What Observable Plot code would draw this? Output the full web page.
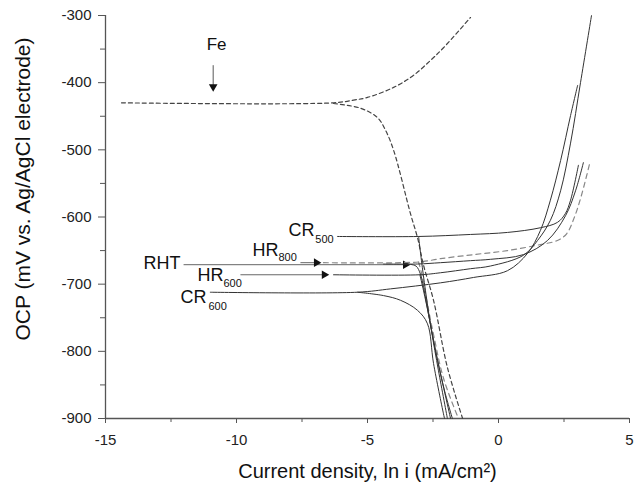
<!DOCTYPE html>
<html>
<head>
<meta charset="utf-8">
<script src="https://cdn.jsdelivr.net/npm/d3@7"></script>
<script src="https://cdn.jsdelivr.net/npm/@observablehq/plot@0.6"></script>
<style>
  html, body { margin: 0; padding: 0; background: #fff; }
  #chart svg { font-family: "Liberation Sans", Arial, sans-serif; }
</style>
</head>
<body>
<div id="chart"></div>
<script>
// ---- axis ticks ----
const xTicks = [-15, -10, -5, 0, 5];
const xMinorTicks = [-12.5, -7.5, -2.5, 2.5];
const yTicks = [-300, -400, -500, -600, -700, -800, -900];
const yMinorTicks = [-350, -450, -550, -650, -750, -850];

// ---- series: [ln i, OCP mV] ----
const feAnodic = [[-14.39,-430],[-6.30,-430],[-5.53,-426],[-5.0,-422],[-4.0,-407],[-3.24,-389],[-2.60,-367],[-2.10,-348],[-1.07,-303]];
const feCathodic = [[-6.30,-431],[-5.27,-438],[-4.62,-452],[-4.31,-471],[-4.0,-501],[-3.36,-595],[-3.09,-631],[-2.86,-672],[-2.48,-724],[-1.95,-824],[-1.37,-900]];

const cr500Anodic = [[-6.15,-629],[-3.05,-629],[-1.07,-626],[0.34,-623],[1.60,-616],[2.25,-608],[2.55,-595],[2.75,-575],[3.05,-523]];
const cr500Cathodic = [[-3.05,-629],[-2.94,-665],[-2.79,-709],[-2.56,-769],[-2.29,-829],[-1.95,-900]];

const hr800Anodic = [[-6.68,-668],[-3.05,-667],[-2.21,-662],[-0.95,-656],[0.34,-650],[1.60,-641],[2.25,-635],[2.60,-625],[2.90,-600],[3.15,-570],[3.47,-522]];
const hr800Cathodic = [[-3.05,-667],[-2.90,-690],[-2.71,-730],[-2.48,-775],[-2.10,-840],[-1.53,-900]];

const rhtAnodic = [[-4.39,-670],[-3.10,-670],[-2.21,-668],[-1.07,-665],[-0.31,-663],[0.95,-656],[1.87,-635],[2.56,-598],[2.94,-561],[3.24,-519]];
const rhtCathodic = [[-3.50,-670],[-3.15,-673],[-2.98,-685],[-2.86,-705],[-2.67,-745],[-2.37,-805],[-1.83,-900]];

const hr600Anodic = [[-6.30,-686],[-3.0,-686],[-2.21,-683],[-1.07,-677],[-0.31,-673],[0.95,-657],[1.49,-635],[1.98,-605],[2.37,-561],[2.75,-490],[3.13,-400],[3.55,-300]];
const hr600Cathodic = [[-3.0,-686],[-2.86,-710],[-2.67,-745],[-2.40,-800],[-2.05,-860],[-1.76,-900]];

const cr600Anodic = [[-11.0,-712],[-5.38,-712],[-4.12,-707],[-2.21,-698],[-0.95,-690],[0.34,-680],[1.11,-654],[1.60,-620],[1.98,-575],[2.37,-516],[2.75,-449],[3.02,-404]];
const cr600Cathodic = [[-5.38,-712],[-4.39,-717],[-3.74,-724],[-3.09,-739],[-2.71,-759],[-2.48,-818],[-2.10,-893],[-2.06,-900]];

// ---- annotations ----
const labelMain = [
  {text: "CR", x: -8.02, y: -620},
  {text: "HR", x: -9.39, y: -649},
  {text: "RHT", x: -13.55, y: -669},
  {text: "HR", x: -11.49, y: -687},
  {text: "CR", x: -12.14, y: -719}
];
const labelSub = [
  {text: "500", x: -6.99, y: -633.5},
  {text: "800", x: -8.40, y: -660},
  {text: "600", x: -10.50, y: -699},
  {text: "600", x: -11.07, y: -733}
];
const leaders = [
  {x1: -7.56, x2: -6.95, y: -668},
  {x1: -12.02, x2: -3.55, y: -671},
  {x1: -9.85, x2: -6.65, y: -686}
];
const feLabel = [{text: "Fe", x: -10.76, y: -343}];
const feArrow = [{x: -10.89, y1: -374, y2: -406}];

const rows = (name, branch, pts) => pts.map(([x, y]) => ({name, branch, x, y}));
const solid = [
  ...rows("CR500", "a", cr500Anodic), ...rows("CR500", "c", cr500Cathodic),
  ...rows("RHT", "a", rhtAnodic), ...rows("RHT", "c", rhtCathodic),
  ...rows("HR600", "a", hr600Anodic), ...rows("HR600", "c", hr600Cathodic),
  ...rows("CR600", "a", cr600Anodic), ...rows("CR600", "c", cr600Cathodic)
];
const fe = [...rows("Fe", "a", feAnodic), ...rows("Fe", "c", feCathodic)];
const hr800 = [...rows("HR800", "a", hr800Anodic), ...rows("HR800", "c", hr800Cathodic)];

const fmt = d => String(d);
const axisColor = "#555";

const chart = Plot.plot({
  width: 640,
  height: 489,
  marginLeft: 105,
  marginRight: 11,
  marginTop: 15,
  marginBottom: 71,
  x: {domain: [-15, 5], label: null},
  y: {domain: [-900, -300], label: null},
  style: {fontFamily: "Liberation Sans, Arial, sans-serif", background: "#fff"},
  marks: [
    Plot.axisX(xTicks, {tickSize: 5, tickPadding: 11, fontSize: 15, tickFormat: fmt, stroke: axisColor, color: "#222", label: null}),
    Plot.axisX(xMinorTicks, {tickSize: 4, tickFormat: () => "", stroke: axisColor, label: null}),
    Plot.axisY(yTicks, {tickSize: 7, tickPadding: 7, fontSize: 15, tickFormat: fmt, stroke: axisColor, color: "#222", label: null}),
    Plot.axisY(yMinorTicks, {tickSize: 5, tickFormat: () => "", stroke: axisColor, label: null}),
    Plot.ruleX([-15], {stroke: axisColor, strokeWidth: 1.3}),
    Plot.ruleY([-900], {stroke: axisColor, strokeWidth: 1.3}),
    // leader lines
    Plot.link(leaders, {x1: "x1", x2: "x2", y1: "y", y2: "y", stroke: "#555", strokeWidth: 0.9}),
    Plot.dot(leaders, {x: "x2", y: "y", symbol: "triangle", r: 3.2, fill: "#111", stroke: null, rotate: 90}),
    Plot.link(feArrow, {x1: "x", x2: "x", y1: "y1", y2: "y2", stroke: "#444", strokeWidth: 0.9}),
    Plot.dot(feArrow, {x: "x", y: "y2", symbol: "triangle", r: 3.2, fill: "#111", stroke: null, rotate: 180}),
    // curves
    Plot.line(hr800, {x: "x", y: "y", z: d => d.name + d.branch, stroke: "#888", strokeWidth: 1.2, strokeDasharray: "5,4", curve: "catmull-rom"}),
    Plot.line(fe, {x: "x", y: "y", z: d => d.name + d.branch, stroke: "#444", strokeWidth: 1.2, strokeDasharray: "4,3", curve: "catmull-rom"}),
    Plot.line(solid, {x: "x", y: "y", z: d => d.name + d.branch, stroke: "#333", strokeWidth: 1, curve: "catmull-rom"}),
    // labels
    Plot.text(labelMain, {x: "x", y: "y", text: "text", textAnchor: "start", fontSize: 18, fill: "#111"}),
    Plot.text(labelSub, {x: "x", y: "y", text: "text", textAnchor: "start", fontSize: 11, fill: "#111"}),
    Plot.text(feLabel, {x: "x", y: "y", text: "text", textAnchor: "middle", fontSize: 17, fill: "#111"}),
    // axis titles
    Plot.text(["OCP (mV vs. Ag/AgCl electrode)"], {frameAnchor: "left", textAnchor: "middle", lineAnchor: "middle", dx: -82, dy: -28, rotate: -90, fontSize: 21, fill: "#111"}),
    Plot.text(["Current density, ln i (mA/cm²)"], {frameAnchor: "bottom", textAnchor: "middle", lineAnchor: "middle", dy: 53, fontSize: 20, fill: "#111"})
  ]
});
document.getElementById("chart").appendChild(chart);
</script>
</body>
</html>
